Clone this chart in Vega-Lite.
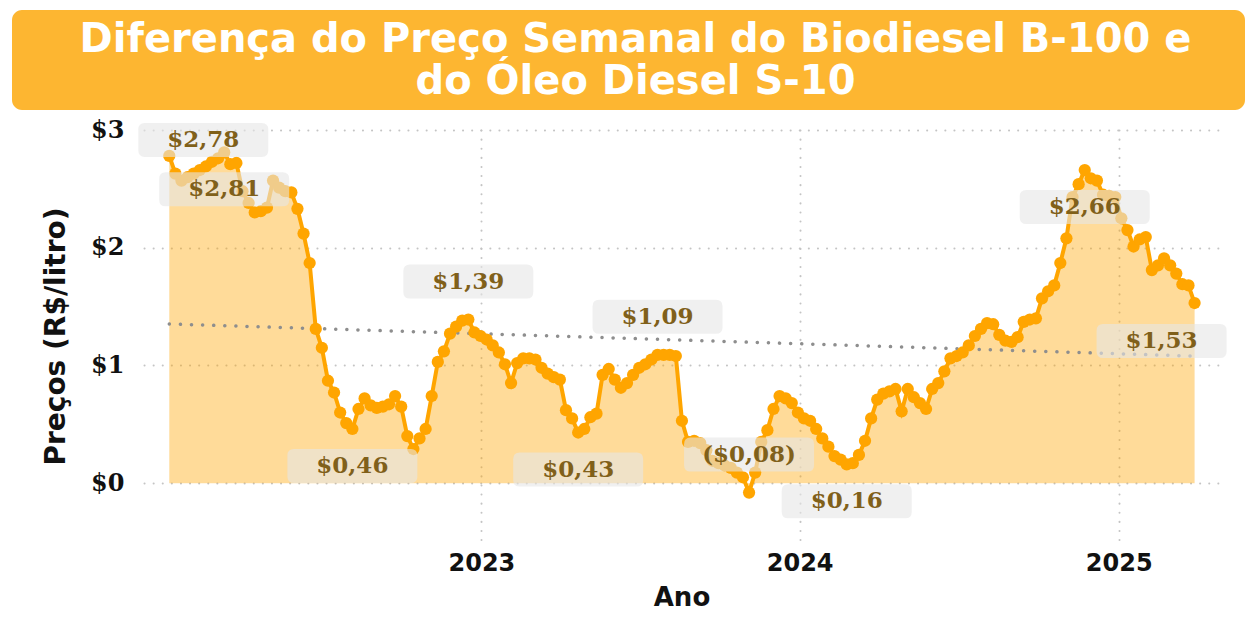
{
  "$schema": "https://vega.github.io/schema/vega-lite/v6.json",
  "background": "white",
  "padding": {"left": 12, "top": 10, "right": 0, "bottom": 0},
  "spacing": 8,
  "config": {"view": {"stroke": null}},
  "vconcat": [
    {
      "width": 1233,
      "height": 100,
      "data": {"values": [{"t": 1}]},
      "view": {"fill": "#FDB631", "stroke": null, "cornerRadius": 10},
      "mark": {"type": "text", "color": "white", "font": "DejaVu Sans", "fontWeight": "bold", "fontSize": 40, "lineHeight": 42, "baseline": "middle", "align": "center", "dx": 7, "dy": -20},
      "encoding": {"text": {"value": ["Diferença do Preço Semanal do Biodiesel B-100 e", "do Óleo Diesel S-10"]}}
    },
    {
      "spacing": 29,
      "hconcat": [
        {
          "width": 1,
          "height": 1,
          "data": {"values": []},
          "mark": "text"
        },
        {
          "width": 1075,
          "height": 412,
          "data": {
            "format": {"parse": {"semana": "date"}},
            "values": [
              {"semana": "2022-01-08", "valor": 2.78, "rotulo": "$2,78", "posicao": "inicio"},
              {"semana": "2022-01-15", "valor": 2.63},
              {"semana": "2022-01-22", "valor": 2.57},
              {"semana": "2022-01-29", "valor": 2.60},
              {"semana": "2022-02-05", "valor": 2.63},
              {"semana": "2022-02-12", "valor": 2.66},
              {"semana": "2022-02-19", "valor": 2.69},
              {"semana": "2022-02-26", "valor": 2.73},
              {"semana": "2022-03-05", "valor": 2.76},
              {"semana": "2022-03-12", "valor": 2.81, "rotulo": "$2,81", "posicao": "abaixo"},
              {"semana": "2022-03-19", "valor": 2.71},
              {"semana": "2022-03-26", "valor": 2.72},
              {"semana": "2022-04-02", "valor": 2.48},
              {"semana": "2022-04-09", "valor": 2.38},
              {"semana": "2022-04-16", "valor": 2.30},
              {"semana": "2022-04-23", "valor": 2.31},
              {"semana": "2022-04-30", "valor": 2.34},
              {"semana": "2022-05-07", "valor": 2.57},
              {"semana": "2022-05-14", "valor": 2.51},
              {"semana": "2022-05-21", "valor": 2.48},
              {"semana": "2022-05-28", "valor": 2.47},
              {"semana": "2022-06-04", "valor": 2.33},
              {"semana": "2022-06-11", "valor": 2.12},
              {"semana": "2022-06-18", "valor": 1.87},
              {"semana": "2022-06-25", "valor": 1.31},
              {"semana": "2022-07-02", "valor": 1.15},
              {"semana": "2022-07-09", "valor": 0.87},
              {"semana": "2022-07-16", "valor": 0.77},
              {"semana": "2022-07-23", "valor": 0.60},
              {"semana": "2022-07-30", "valor": 0.51},
              {"semana": "2022-08-06", "valor": 0.46, "rotulo": "$0,46", "posicao": "abaixo"},
              {"semana": "2022-08-13", "valor": 0.63},
              {"semana": "2022-08-20", "valor": 0.72},
              {"semana": "2022-08-27", "valor": 0.66},
              {"semana": "2022-09-03", "valor": 0.64},
              {"semana": "2022-09-10", "valor": 0.65},
              {"semana": "2022-09-17", "valor": 0.67},
              {"semana": "2022-09-24", "valor": 0.74},
              {"semana": "2022-10-01", "valor": 0.65},
              {"semana": "2022-10-08", "valor": 0.40},
              {"semana": "2022-10-15", "valor": 0.29},
              {"semana": "2022-10-22", "valor": 0.38},
              {"semana": "2022-10-29", "valor": 0.46},
              {"semana": "2022-11-05", "valor": 0.74},
              {"semana": "2022-11-12", "valor": 1.03},
              {"semana": "2022-11-19", "valor": 1.12},
              {"semana": "2022-11-26", "valor": 1.27},
              {"semana": "2022-12-03", "valor": 1.33},
              {"semana": "2022-12-10", "valor": 1.38},
              {"semana": "2022-12-17", "valor": 1.39, "rotulo": "$1,39", "posicao": "acima"},
              {"semana": "2022-12-24", "valor": 1.28},
              {"semana": "2022-12-31", "valor": 1.25},
              {"semana": "2023-01-07", "valor": 1.22},
              {"semana": "2023-01-14", "valor": 1.17},
              {"semana": "2023-01-21", "valor": 1.11},
              {"semana": "2023-01-28", "valor": 1.01},
              {"semana": "2023-02-04", "valor": 0.85},
              {"semana": "2023-02-11", "valor": 1.02},
              {"semana": "2023-02-18", "valor": 1.06},
              {"semana": "2023-02-25", "valor": 1.06},
              {"semana": "2023-03-04", "valor": 1.05},
              {"semana": "2023-03-11", "valor": 0.98},
              {"semana": "2023-03-18", "valor": 0.93},
              {"semana": "2023-03-25", "valor": 0.90},
              {"semana": "2023-04-01", "valor": 0.88},
              {"semana": "2023-04-08", "valor": 0.62},
              {"semana": "2023-04-15", "valor": 0.55},
              {"semana": "2023-04-22", "valor": 0.43, "rotulo": "$0,43", "posicao": "abaixo"},
              {"semana": "2023-04-29", "valor": 0.46},
              {"semana": "2023-05-06", "valor": 0.56},
              {"semana": "2023-05-13", "valor": 0.59},
              {"semana": "2023-05-20", "valor": 0.92},
              {"semana": "2023-05-27", "valor": 0.97},
              {"semana": "2023-06-03", "valor": 0.88},
              {"semana": "2023-06-10", "valor": 0.81},
              {"semana": "2023-06-17", "valor": 0.85},
              {"semana": "2023-06-24", "valor": 0.92},
              {"semana": "2023-07-01", "valor": 0.98},
              {"semana": "2023-07-08", "valor": 1.01},
              {"semana": "2023-07-15", "valor": 1.05},
              {"semana": "2023-07-22", "valor": 1.09, "rotulo": "$1,09", "posicao": "acima"},
              {"semana": "2023-07-29", "valor": 1.09},
              {"semana": "2023-08-05", "valor": 1.09},
              {"semana": "2023-08-12", "valor": 1.08},
              {"semana": "2023-08-19", "valor": 0.53},
              {"semana": "2023-08-26", "valor": 0.35},
              {"semana": "2023-09-02", "valor": 0.36},
              {"semana": "2023-09-09", "valor": 0.34},
              {"semana": "2023-09-16", "valor": 0.28},
              {"semana": "2023-09-23", "valor": 0.19},
              {"semana": "2023-09-30", "valor": 0.17},
              {"semana": "2023-10-07", "valor": 0.15},
              {"semana": "2023-10-14", "valor": 0.13},
              {"semana": "2023-10-21", "valor": 0.09},
              {"semana": "2023-10-28", "valor": 0.05},
              {"semana": "2023-11-04", "valor": -0.08, "rotulo": "($0,08)", "posicao": "acima"},
              {"semana": "2023-11-11", "valor": 0.09},
              {"semana": "2023-11-18", "valor": 0.35},
              {"semana": "2023-11-25", "valor": 0.45},
              {"semana": "2023-12-02", "valor": 0.63},
              {"semana": "2023-12-09", "valor": 0.74},
              {"semana": "2023-12-16", "valor": 0.72},
              {"semana": "2023-12-23", "valor": 0.68},
              {"semana": "2023-12-30", "valor": 0.60},
              {"semana": "2024-01-06", "valor": 0.55},
              {"semana": "2024-01-13", "valor": 0.53},
              {"semana": "2024-01-20", "valor": 0.46},
              {"semana": "2024-01-27", "valor": 0.38},
              {"semana": "2024-02-03", "valor": 0.31},
              {"semana": "2024-02-10", "valor": 0.23},
              {"semana": "2024-02-17", "valor": 0.20},
              {"semana": "2024-02-24", "valor": 0.16, "rotulo": "$0,16", "posicao": "abaixo"},
              {"semana": "2024-03-02", "valor": 0.17},
              {"semana": "2024-03-09", "valor": 0.24},
              {"semana": "2024-03-16", "valor": 0.36},
              {"semana": "2024-03-23", "valor": 0.55},
              {"semana": "2024-03-30", "valor": 0.71},
              {"semana": "2024-04-06", "valor": 0.76},
              {"semana": "2024-04-13", "valor": 0.78},
              {"semana": "2024-04-20", "valor": 0.80},
              {"semana": "2024-04-27", "valor": 0.61},
              {"semana": "2024-05-04", "valor": 0.80},
              {"semana": "2024-05-11", "valor": 0.73},
              {"semana": "2024-05-18", "valor": 0.68},
              {"semana": "2024-05-25", "valor": 0.63},
              {"semana": "2024-06-01", "valor": 0.80},
              {"semana": "2024-06-08", "valor": 0.85},
              {"semana": "2024-06-15", "valor": 0.95},
              {"semana": "2024-06-22", "valor": 1.06},
              {"semana": "2024-06-29", "valor": 1.08},
              {"semana": "2024-07-06", "valor": 1.11},
              {"semana": "2024-07-13", "valor": 1.17},
              {"semana": "2024-07-20", "valor": 1.25},
              {"semana": "2024-07-27", "valor": 1.31},
              {"semana": "2024-08-03", "valor": 1.36},
              {"semana": "2024-08-10", "valor": 1.35},
              {"semana": "2024-08-17", "valor": 1.26},
              {"semana": "2024-08-24", "valor": 1.21},
              {"semana": "2024-08-31", "valor": 1.20},
              {"semana": "2024-09-07", "valor": 1.24},
              {"semana": "2024-09-14", "valor": 1.37},
              {"semana": "2024-09-21", "valor": 1.39},
              {"semana": "2024-09-28", "valor": 1.40},
              {"semana": "2024-10-05", "valor": 1.57},
              {"semana": "2024-10-12", "valor": 1.63},
              {"semana": "2024-10-19", "valor": 1.68},
              {"semana": "2024-10-26", "valor": 1.87},
              {"semana": "2024-11-02", "valor": 2.08},
              {"semana": "2024-11-09", "valor": 2.43},
              {"semana": "2024-11-16", "valor": 2.54},
              {"semana": "2024-11-23", "valor": 2.66, "rotulo": "$2,66", "posicao": "abaixo"},
              {"semana": "2024-11-30", "valor": 2.59},
              {"semana": "2024-12-07", "valor": 2.57},
              {"semana": "2024-12-14", "valor": 2.45},
              {"semana": "2024-12-21", "valor": 2.44},
              {"semana": "2024-12-28", "valor": 2.43},
              {"semana": "2025-01-04", "valor": 2.25},
              {"semana": "2025-01-11", "valor": 2.15},
              {"semana": "2025-01-18", "valor": 2.01},
              {"semana": "2025-01-25", "valor": 2.07},
              {"semana": "2025-02-01", "valor": 2.09},
              {"semana": "2025-02-08", "valor": 1.81},
              {"semana": "2025-02-15", "valor": 1.85},
              {"semana": "2025-02-22", "valor": 1.91},
              {"semana": "2025-03-01", "valor": 1.85},
              {"semana": "2025-03-08", "valor": 1.78},
              {"semana": "2025-03-15", "valor": 1.69},
              {"semana": "2025-03-22", "valor": 1.68},
              {"semana": "2025-03-29", "valor": 1.53, "rotulo": "$1,53", "posicao": "fim"}
            ]
          },
          "encoding": {
            "x": {
              "field": "semana",
              "type": "temporal",
              "scale": {"domain": [{"year": 2021, "month": 12, "date": 10}, {"year": 2025, "month": 4, "date": 26}]},
              "axis": {
                "values": [{"year": 2023, "month": 1, "date": 1}, {"year": 2024, "month": 1, "date": 1}, {"year": 2025, "month": 1, "date": 1}],
                "format": "%Y",
                "title": "Ano",
                "domain": false,
                "ticks": false,
                "grid": true,
                "gridColor": "#c4c4c4",
                "gridDash": [0.1, 9],
                "gridCap": "round",
                "gridWidth": 2,
                "labelFont": "DejaVu Sans",
                "labelFontWeight": "bold",
                "labelFontSize": 24,
                "labelColor": "#111111",
                "labelPadding": 9,
                "titleFont": "DejaVu Sans",
                "titleFontWeight": "bold",
                "titleFontSize": 26,
                "titleColor": "#111111",
                "titlePadding": 9
              }
            },
            "y": {
              "field": "valor",
              "type": "quantitative",
              "scale": {"domain": [-0.5, 3], "nice": false, "zero": false},
              "axis": {
                "values": [0, 1, 2, 3],
                "labelExpr": "'$' + datum.value",
                "title": "Preços (R$/litro)",
                "domain": false,
                "ticks": false,
                "grid": true,
                "gridColor": "#c4c4c4",
                "gridDash": [0.1, 9],
                "gridCap": "round",
                "gridWidth": 2,
                "labelFont": "DejaVu Serif",
                "labelFontWeight": "bold",
                "labelFontSize": 24,
                "labelColor": "#111111",
                "labelPadding": 20,
                "titleFont": "DejaVu Sans",
                "titleFontWeight": "bold",
                "titleFontSize": 28,
                "titleColor": "#111111",
                "titlePadding": 20
              }
            }
          },
          "layer": [
            {"mark": {"type": "area", "color": "#FFA500", "opacity": 0.4}},
            {
              "transform": [{"regression": "valor", "on": "semana"}],
              "mark": {"type": "line", "color": "#8E8E8E", "strokeWidth": 3.5, "strokeDash": [0.1, 11], "strokeCap": "round"}
            },
            {"mark": {"type": "line", "color": "#FFA500", "strokeWidth": 4, "point": {"filled": true, "size": 150, "color": "#FFA500", "opacity": 1}}},
            {
              "transform": [{"filter": "datum.posicao === 'acima'"}],
              "layer": [
                {"mark": {"type": "point", "shape": "M-0.9,-0.2615H0.9Q1,-0.2615 1,-0.16V0.16Q1,0.2615 0.9,0.2615H-0.9Q-1,0.2615 -1,0.16V-0.16Q-1,-0.2615 -0.9,-0.2615Z", "size": 16900, "filled": true, "color": "#E6E6E6", "opacity": 0.6, "strokeWidth": 0, "yOffset": -38}},
                {"mark": {"type": "text", "font": "DejaVu Serif", "fontWeight": "bold", "fontSize": 23, "color": "#80601A", "baseline": "middle", "align": "center", "yOffset": -38}, "encoding": {"text": {"field": "rotulo"}}}
              ]
            },
            {
              "transform": [{"filter": "datum.posicao === 'abaixo'"}],
              "layer": [
                {"mark": {"type": "point", "shape": "M-0.9,-0.2615H0.9Q1,-0.2615 1,-0.16V0.16Q1,0.2615 0.9,0.2615H-0.9Q-1,0.2615 -1,0.16V-0.16Q-1,-0.2615 -0.9,-0.2615Z", "size": 16900, "filled": true, "color": "#E6E6E6", "opacity": 0.6, "strokeWidth": 0, "yOffset": 37}},
                {"mark": {"type": "text", "font": "DejaVu Serif", "fontWeight": "bold", "fontSize": 23, "color": "#80601A", "baseline": "middle", "align": "center", "yOffset": 37}, "encoding": {"text": {"field": "rotulo"}}}
              ]
            },
            {
              "transform": [{"filter": "datum.posicao === 'inicio'"}],
              "layer": [
                {"mark": {"type": "point", "shape": "M-0.9,-0.2615H0.9Q1,-0.2615 1,-0.16V0.16Q1,0.2615 0.9,0.2615H-0.9Q-1,0.2615 -1,0.16V-0.16Q-1,-0.2615 -0.9,-0.2615Z", "size": 16900, "filled": true, "color": "#E6E6E6", "opacity": 0.6, "strokeWidth": 0, "xOffset": 34, "yOffset": -16}},
                {"mark": {"type": "text", "font": "DejaVu Serif", "fontWeight": "bold", "fontSize": 23, "color": "#80601A", "baseline": "middle", "align": "center", "xOffset": 34, "yOffset": -16}, "encoding": {"text": {"field": "rotulo"}}}
              ]
            },
            {
              "transform": [{"filter": "datum.posicao === 'fim'"}],
              "layer": [
                {"mark": {"type": "point", "shape": "M-0.9,-0.2615H0.9Q1,-0.2615 1,-0.16V0.16Q1,0.2615 0.9,0.2615H-0.9Q-1,0.2615 -1,0.16V-0.16Q-1,-0.2615 -0.9,-0.2615Z", "size": 16900, "filled": true, "color": "#E6E6E6", "opacity": 0.6, "strokeWidth": 0, "xOffset": -33, "yOffset": 38}},
                {"mark": {"type": "text", "font": "DejaVu Serif", "fontWeight": "bold", "fontSize": 23, "color": "#80601A", "baseline": "middle", "align": "center", "xOffset": -33, "yOffset": 38}, "encoding": {"text": {"field": "rotulo"}}}
              ]
            }
          ]
        }
      ]
    }
  ]
}
